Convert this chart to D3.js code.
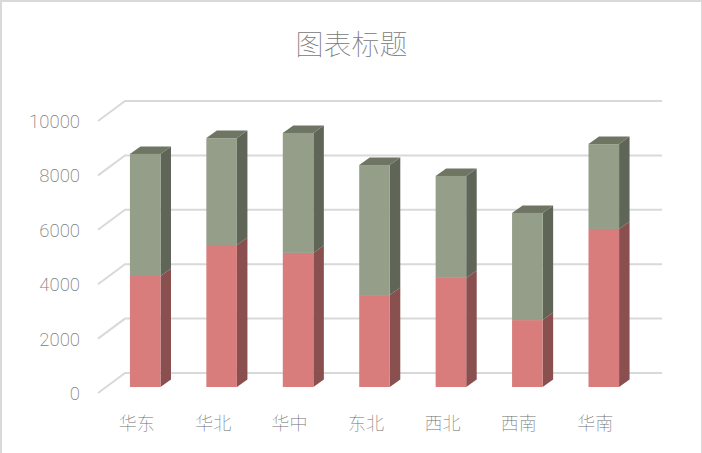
<!DOCTYPE html>
<html>
<head>
<meta charset="utf-8">
<script src="https://cdn.jsdelivr.net/npm/d3@7"></script>
<style>
html, body { margin: 0; padding: 0; background: #fff; overflow: hidden; }
text { font-family: "Noto Sans CJK SC", "Open Sans", sans-serif; font-weight: 100; }
</style>
</head>
<body>
<script>
var categories = ['华东', '华北', '华中', '东北', '西北', '西南', '华南'];
var lower = [4080, 5220, 4930, 3380, 4010, 2460, 5810];
var upper = [4490, 3930, 4410, 4780, 3750, 3940, 3120];
var yTicks = [0, 2000, 4000, 6000, 8000, 10000];

var width = 702, height = 453;

var colors = {
    lower: {front: '#d87c7c', side: '#8a4f4f', top: '#a05f5f'},
    upper: {front: '#949e89', side: '#5f6657', top: '#6e7663'}
};

var svg = d3.select('body').append('svg')
    .attr('width', width)
    .attr('height', height);

svg.append('rect')
    .attr('x', 1).attr('y', 1)
    .attr('width', width - 1).attr('height', height)
    .attr('fill', '#fff')
    .attr('stroke', '#d9d9d9')
    .attr('stroke-width', 2);

svg.append('text')
    .attr('x', 351.5)
    .attr('y', 55)
    .attr('text-anchor', 'middle')
    .attr('font-size', 28)
    .attr('fill', '#777')
    .text('图表标题');

// value -> y on the back wall, the floor sits 20px lower at the front edge
var y = d3.scaleLinear().domain([0, 10000]).range([373, 101]);
var x = d3.scaleBand().domain(categories).range([98.5, 633.5]).paddingInner(0.6).paddingOuter(0.3);

var wallDx = 27, wallDy = 20;     // front edge of floor to back wall
var frontDy = 14, barDx = 10.5, barDy = 7.5, barShift = 8.5;

var grid = svg.append('g');
yTicks.forEach(function (t) {
    grid.append('polyline')
        .attr('points', [
            [98, y(t) + wallDy],
            [98 + wallDx, y(t)],
            [662, y(t)]
        ].join(' '))
        .attr('fill', 'none')
        .attr('stroke', '#d9d9d9')
        .attr('stroke-width', 2);
});

svg.append('g').selectAll('text')
    .data(yTicks)
    .enter().append('text')
    .attr('x', 80)
    .attr('y', function (d) { return y(d) + wallDy + 7; })
    .attr('text-anchor', 'end')
    .attr('font-size', 18.5)
    .attr('fill', '#808080')
    .style('font-family', 'Roboto, "Open Sans", sans-serif')
    .style('font-weight', 200)
    .text(function (d) { return d; });

svg.append('g').selectAll('text')
    .data(categories)
    .enter().append('text')
    .attr('x', function (d) { return x(d) + x.bandwidth() / 2; })
    .attr('y', 430)
    .attr('text-anchor', 'middle')
    .attr('font-size', 18)
    .attr('fill', '#707070')
    .text(function (d) { return d; });

var table = categories.map(function (c, i) {
    return {cat: c, lower: lower[i], upper: upper[i]};
});
var layers = d3.stack().keys(['lower', 'upper'])(table);

layers.forEach(function (layer) {
    var c = colors[layer.key];
    var g = svg.append('g');
    layer.forEach(function (d) {
        var x0 = x(d.data.cat) + barShift;
        var x1 = x0 + x.bandwidth();
        var yBottom = y(d[0]) + frontDy;
        var yTop = y(d[1]) + frontDy;

        g.append('polygon')
            .attr('points', [
                [x1, yTop], [x1 + barDx, yTop - barDy],
                [x1 + barDx, yBottom - barDy], [x1, yBottom]
            ].join(' '))
            .attr('fill', c.side);

        if (layer.key === 'upper') {
            g.append('polygon')
                .attr('points', [
                    [x0, yTop], [x0 + barDx, yTop - barDy],
                    [x1 + barDx, yTop - barDy], [x1, yTop]
                ].join(' '))
                .attr('fill', c.top);
        }

        g.append('rect')
            .attr('x', x0)
            .attr('y', yTop)
            .attr('width', x.bandwidth())
            .attr('height', yBottom - yTop)
            .attr('fill', c.front);
    });
});
</script>
</body>
</html>
